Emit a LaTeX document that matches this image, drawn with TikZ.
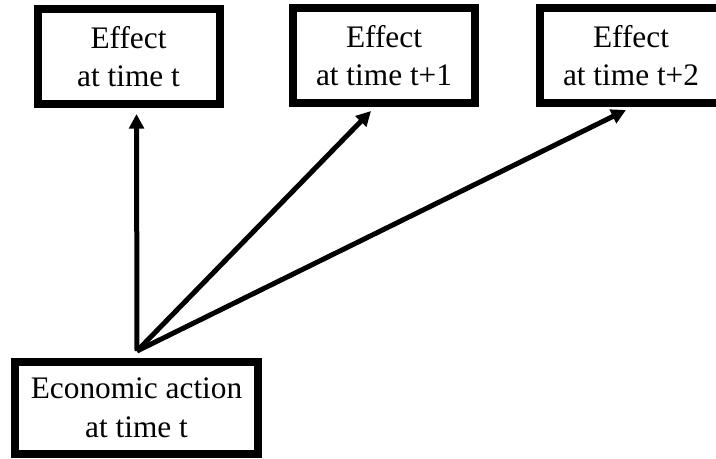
\documentclass[tikz,border=0pt]{standalone}
\usepackage{fontspec}
\setmainfont{Liberation Serif}
\usepackage{tikz}
\usetikzlibrary{positioning, calc, arrows.meta}
\tikzset{>={Triangle[length=11pt, width=11pt]}}
\tikzset{effbox/.style={draw, line width=6pt, inner sep=0pt, align=center,
    minimum width=136.5pt, minimum height=71.25pt,
    font=\fontsize{23.5}{29}\selectfont}}

\begin{document}
\begin{tikzpicture}[x=0.75pt, y=-0.75pt]
    \path [use as bounding box, clip] (0,0) rectangle (716,459);

    \node [effbox] (efft) at (128.5,56.5) {Effect\\at time t};
    \node [effbox] (efftone) at (384,55.5) {Effect\\at time t+1};
    \node [effbox] (eff2) at (631,55.5) {Effect\\at time t+2};

    \node [effbox, minimum width=182.25pt, minimum height=69pt] (action) at (136.5,408) {Economic action\\at time t};

    \coordinate (src) at ($(action.north)+(0.5,-7)$);
    \coordinate (tipa) at ($(efft.south)+(8,6)$);
    \coordinate (tipb) at ($(efftone.south)+(-13,4)$);
    \coordinate (tipc) at ($(eff2.south)+(-5,3)$);

    \path [->, line width=3.75pt]
    (src) edge (tipa)
    (src) edge (tipb)
    (src) edge (tipc);
  \end{tikzpicture}
\end{document}
